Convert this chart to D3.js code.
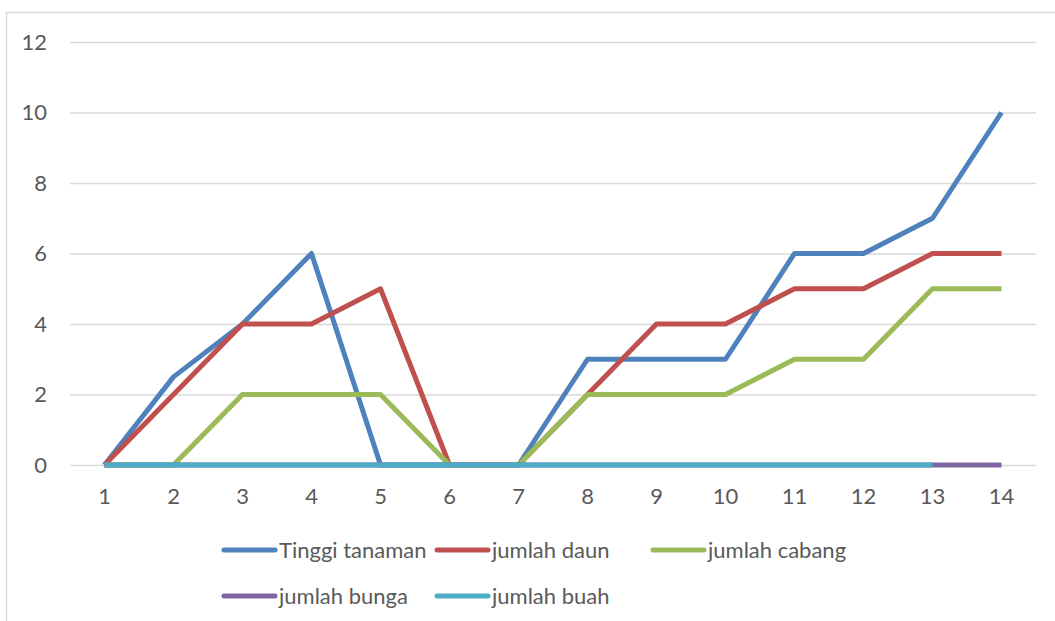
<!DOCTYPE html>
<html>
<head>
<meta charset="utf-8">
<script src="https://cdn.jsdelivr.net/npm/d3@7"></script>
<style>
  html, body { margin: 0; padding: 0; background: #fff; }
  svg { display: block; }
  text { font-family: Lato, "Open Sans", sans-serif; fill: #595959; }
</style>
</head>
<body>
<svg id="chart" width="1055" height="621"></svg>
<script>
// Days of observation
const categories = [1, 2, 3, 4, 5, 6, 7, 8, 9, 10, 11, 12, 13, 14];

// Series values per day
const tinggiTanaman = [0, 2.5, 4, 6, 0, 0, 0, 3, 3, 3, 6, 6, 7, 10];
const jumlahDaun    = [0, 2, 4, 4, 5, 0, 0, 2, 4, 4, 5, 5, 6, 6];
const jumlahCabang  = [0, 0, 2, 2, 2, 0, 0, 2, 2, 2, 3, 3, 5, 5];
const jumlahBunga   = [0, 0, 0, 0, 0, 0, 0, 0, 0, 0, 0, 0, 0, 0];
const jumlahBuah    = [0, 0, 0, 0, 0, 0, 0, 0, 0, 0, 0, 0, 0, null];

const yTicks = [0, 2, 4, 6, 8, 10, 12];

const seriesNames  = ["Tinggi tanaman", "jumlah daun", "jumlah cabang", "jumlah bunga", "jumlah buah"];
const seriesValues = [tinggiTanaman, jumlahDaun, jumlahCabang, jumlahBunga, jumlahBuah];
const seriesColors = ["#4f81bd", "#c0504d", "#9bbb59", "#8064a2", "#4bacc6"];

const svg = d3.select("#chart");
const W = 1055, H = 621;
const plot = { left: 70, right: 1036, top: 42, bottom: 465 };
const FONT = "Lato, 'Open Sans', sans-serif";
const FS = "22px";

// chart frame
svg.append("rect")
  .attr("x", 6.5).attr("y", 12.5)
  .attr("width", W + 10).attr("height", H + 10)
  .attr("fill", "none").attr("stroke", "#d9d9d9").attr("stroke-width", 1.5);

const x = d3.scaleBand().domain(categories).range([plot.left, plot.right]);
const y = d3.scaleLinear().domain([0, 12]).range([plot.bottom, plot.top]);
const cx = d => x(d) + x.bandwidth() / 2;

// horizontal gridlines and value labels
const yAxis = d3.axisLeft(y).tickValues(yTicks).tickSize(-(plot.right - plot.left)).tickPadding(23);
const gy = svg.append("g").attr("transform", `translate(${plot.left},0)`).call(yAxis);
gy.select(".domain").remove();
gy.selectAll(".tick line").attr("stroke", "#d9d9d9").attr("stroke-width", 1.5);
gy.selectAll(".tick text")
  .style("font-size", FS).style("font-family", FONT).style("fill", "#595959");

// category axis labels
const xAxis = d3.axisBottom(x).tickSize(0).tickPadding(23);
const gx = svg.append("g").attr("transform", `translate(0,${plot.bottom})`).call(xAxis);
gx.select(".domain").remove();
gx.selectAll(".tick text")
  .style("font-size", FS).style("font-family", FONT).style("fill", "#595959");

// series lines
const line = d3.line()
  .defined(d => d.v !== null)
  .x(d => cx(d.c))
  .y(d => y(d.v));

seriesValues.forEach((vals, i) => {
  svg.append("path")
    .datum(categories.map((c, j) => ({ c, v: vals[j] })))
    .attr("fill", "none")
    .attr("stroke", seriesColors[i])
    .attr("stroke-width", 5)
    .attr("stroke-linejoin", "round")
    .attr("stroke-linecap", "butt")
    .attr("d", line);
});

// legend
const legendItems = [
  { x: 222, y: 550 }, { x: 435, y: 550 }, { x: 651, y: 550 },
  { x: 222, y: 596 }, { x: 435, y: 596 }
];
seriesNames.forEach((name, i) => {
  const p = legendItems[i];
  const g = svg.append("g").attr("transform", `translate(${p.x},${p.y})`);
  g.append("line")
    .attr("x1", 2).attr("x2", 53).attr("y1", 0).attr("y2", 0)
    .attr("stroke", seriesColors[i]).attr("stroke-width", 5)
    .attr("stroke-linecap", "round");
  g.append("text")
    .attr("x", 57).attr("y", 0).attr("dy", "0.35em")
    .style("font-size", FS).style("font-family", FONT)
    .text(name);
});
</script>
</body>
</html>
